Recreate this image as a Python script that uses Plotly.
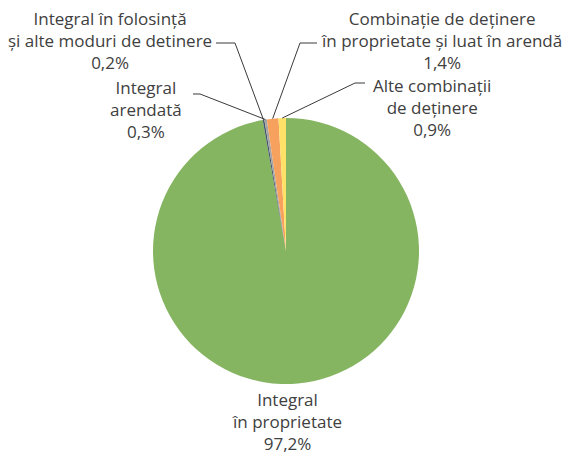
import numpy as np
import plotly.graph_objects as go

# ---- data ----
labels = [
    "Integral în proprietate",
    "Integral în folosință și alte moduri de detinere",
    "Integral arendată",
    "Combinație de deținere în proprietate și luat în arendă",
    "Alte combinații de deținere",
]
label_lines = [
    ["Integral", "în proprietate"],
    ["Integral în folosință", "și alte moduri de detinere"],
    ["Integral", "arendată"],
    ["Combinație de deținere", "în proprietate și luat în arendă"],
    ["Alte combinații", "de deținere"],
]
values = [97.2, 0.2, 0.3, 1.4, 0.9]
value_labels = ["97,2%", "0,2%", "0,3%", "1,4%", "0,9%"]

# ---- style / layout ----
colors = ["#86B562", "#44546A", "#A5A5A5", "#F6A25E", "#FFE168"]
W, H = 568, 456
CX, CY, R = 286, 251, 133
FONT = "Open Sans"
FSIZE = 17
TXT = "#404040"

# label block centre (px); bottom block anchored to the bottom edge
label_pos = [(287, None), (110, 40), (146, 109), (441, 40), (432, 108)]
leaders = [None, [(216, 43), (235, 43)], [(193, 94), (200, 94)],
           [(317, 43), (300, 43)], [(365, 83), (355, 83)]]

fig = go.Figure(go.Pie(
    labels=labels, values=values, sort=False, direction="clockwise", rotation=0,
    marker=dict(colors=colors, line=dict(width=0)),
    textinfo="none", hoverinfo="label+percent", showlegend=False,
    domain=dict(x=[(CX - R) / W, (CX + R) / W], y=[1 - (CY + R) / H, 1 - (CY - R) / H]),
))

tot = sum(values)
cum = np.cumsum([0] + values)
annotations = []
shapes = []
for i, v in enumerate(values):
    mid = (cum[i] + cum[i + 1]) / 2 / tot * 2 * np.pi
    ex, ey = CX + R * np.sin(mid), CY - R * np.cos(mid)
    lx, ly = label_pos[i]
    ann = dict(x=lx / W, xref="paper", yref="paper", xanchor="center",
               text="<br>".join(label_lines[i] + [value_labels[i]]), showarrow=False,
               align="center", font=dict(family=FONT, size=FSIZE, color=TXT))
    if ly is None:
        ann.update(y=0, yanchor="bottom", borderpad=0)
    else:
        ann.update(y=1 - ly / H, yanchor="middle")
    annotations.append(ann)
    if leaders[i]:
        pts = leaders[i] + [(ex, ey)]
        path = "M " + " L ".join(f"{x / W:.5f},{1 - y / H:.5f}" for x, y in pts)
        shapes.append(dict(type="path", path=path, xref="paper", yref="paper",
                           line=dict(color="#3a3a3a", width=1)))

fig.update_layout(
    width=W, height=H, margin=dict(l=0, r=0, t=0, b=0),
    paper_bgcolor="white", plot_bgcolor="white",
    annotations=annotations, shapes=shapes,
)
fig.write_html("out.html", config={"displayModeBar": False},
               post_script="document.body.style.margin='0';document.body.style.overflow='hidden';")
